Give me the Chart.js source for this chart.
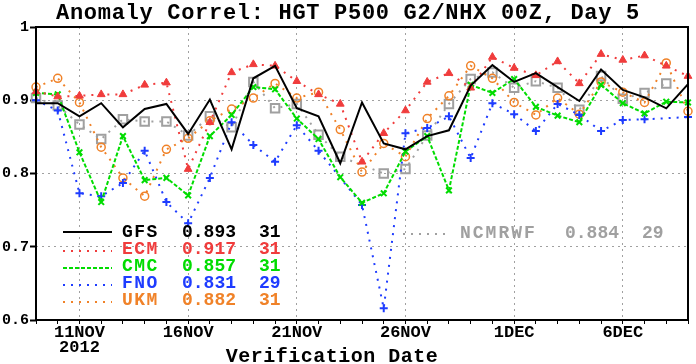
<!DOCTYPE html>
<html>
<head>
<meta charset="utf-8">
<script src="https://cdn.jsdelivr.net/npm/chart.js@4.4.1/dist/chart.umd.min.js"></script>
<style>
  html, body { margin: 0; padding: 0; background: #fff; }
  #chart { display: block; }
</style>
</head>
<body>
<canvas id="chart" width="696" height="364"></canvas>
<script>
// verification days, 9 Nov .. 9 Dec 2012
const dates = ['9NOV','10NOV','11NOV','12NOV','13NOV','14NOV','15NOV','16NOV','17NOV','18NOV',
  '19NOV','20NOV','21NOV','22NOV','23NOV','24NOV','25NOV','26NOV','27NOV','28NOV',
  '29NOV','30NOV','1DEC','2DEC','3DEC','4DEC','5DEC','6DEC','7DEC','8DEC','9DEC'];
const tickDates = ['11NOV','16NOV','21NOV','26NOV','1DEC','6DEC'];
const yearLabel = '2012';
const yTicks = [0.6, 0.7, 0.8, 0.9, 1];

const gfs = [0.896,0.896,0.878,0.896,0.863,0.888,0.895,0.854,0.901,0.833,
  0.930,0.947,0.889,0.878,0.814,0.897,0.841,0.833,0.851,0.859,
  0.920,0.948,0.925,0.937,0.918,0.899,0.942,0.914,0.904,0.889,0.922];
const ecm = [0.912,0.905,0.906,0.908,0.908,0.921,0.924,0.806,0.870,0.938,
  0.949,0.947,0.926,0.908,0.895,0.816,0.855,0.886,0.925,0.937,
  0.917,0.959,0.944,0.934,0.953,0.923,0.963,0.955,0.961,0.947,0.933];
const cmc = [0.910,0.908,0.829,0.761,0.851,0.791,0.794,0.770,0.851,0.880,
  0.918,0.915,0.875,0.847,0.795,0.760,0.773,0.830,0.851,0.777,
  0.921,0.910,0.929,0.891,0.879,0.870,0.921,0.896,0.882,0.898,0.897];
const fno = [0.900,0.886,0.773,0.769,0.787,0.831,0.761,0.732,0.794,0.870,
  0.839,0.816,0.866,0.831,null,0.757,0.616,0.855,0.862,0.878,
  0.821,0.896,0.881,0.858,0.895,0.880,0.858,0.873,0.874,null,0.877];
const ukm = [0.918,0.930,0.897,0.836,0.794,0.769,0.833,0.848,0.872,0.888,
  0.903,0.923,0.903,0.911,0.860,0.802,0.841,0.823,0.875,0.906,
  0.947,0.930,0.897,0.880,0.903,0.881,0.925,0.911,0.897,0.951,0.885];
const ncmrwf = [0.903,0.893,0.867,0.847,0.874,0.871,0.871,0.852,0.878,0.863,
  0.925,0.889,0.895,0.853,0.823,null,0.800,0.806,0.852,0.895,
  0.929,0.938,0.917,0.926,0.917,0.887,0.933,0.902,0.910,0.923,null];

const models = ['GFS','ECM','CMC','FNO','UKM'];
const means = ['0.893','0.917','0.857','0.831','0.882'];
const counts = ['31','31','31','29','31'];
const extraModel = 'NCMRWF', extraMean = '0.884', extraCount = '29';

const colors = ['#000000','#f03c3c','#00dc00','#1e3cff','#f08228','#a0a0a0'];
const FONT = "'Liberation Mono', 'DejaVu Sans Mono', monospace";

function dotted(ctx, x1, x2, y, color, dash) {
  ctx.save();
  ctx.strokeStyle = color;
  ctx.lineWidth = 2;
  ctx.setLineDash(dash);
  ctx.beginPath();
  ctx.moveTo(x1, y);
  ctx.lineTo(x2, y);
  ctx.stroke();
  ctx.restore();
}

const decorations = {
  id: 'decorations',
  afterDraw(chart) {
    const ctx = chart.ctx;
    const a = chart.chartArea;
    ctx.save();
    // frame
    ctx.strokeStyle = '#000';
    ctx.lineWidth = 2;
    ctx.strokeRect(a.left, a.top, a.right - a.left, a.bottom - a.top);

    // title
    ctx.fillStyle = '#000';
    ctx.font = 'bold 22px ' + FONT;
    ctx.textAlign = 'center';
    ctx.textBaseline = 'alphabetic';
    ctx.letterSpacing = '0.7px';
    ctx.fillText('Anomaly Correl: HGT P500 G2/NHX 00Z, Day 5', 348, 19);

    // x axis title
    ctx.letterSpacing = '0.5px';
    ctx.font = 'bold 20px ' + FONT;
    ctx.fillText('Verification Date', 332, 362);

    // legend
    ctx.textAlign = 'left';
    ctx.textBaseline = 'middle';
    const dashes = [[], [2, 6], [4, 2], [2, 6], [2, 6]];
    models.forEach((m, i) => {
      const y = 232 + i * 17;
      if (i === 0) dotted(ctx, 63, 112, y, colors[0], []);
      else dotted(ctx, 63, 112, y + 2, colors[i], dashes[i]);
      ctx.fillStyle = colors[i];
      ctx.font = 'bold 18px ' + FONT;
      ctx.letterSpacing = '1.5px';
      ctx.fillText(m, 122, y);
      ctx.letterSpacing = '0px';
      ctx.fillText(means[i], 182, y);
      ctx.fillText(counts[i], 259, y);
    });
    dotted(ctx, 403, 450, 234, colors[5], [2, 6]);
    ctx.fillStyle = colors[5];
    ctx.font = 'bold 18px ' + FONT;
    ctx.letterSpacing = '2px';
    ctx.fillText(extraModel, 460, 233);
    ctx.letterSpacing = '0px';
    ctx.fillText(extraMean, 565, 233);
    ctx.fillText(extraCount, 642, 233);
    ctx.restore();
  }
};

function series(label, data, color, extra) {
  return Object.assign({
    label: label,
    data: data,
    borderColor: color,
    backgroundColor: color,
    pointBorderColor: color,
    borderWidth: 2,
    tension: 0,
    spanGaps: true,
    pointRadius: 4,
    pointBorderWidth: 2
  }, extra);
}

new Chart(document.getElementById('chart').getContext('2d'), {
  type: 'line',
  data: {
    labels: dates,
    datasets: [
      series('GFS', gfs, colors[0], { pointRadius: 0, order: 0 }),
      series('ECM', ecm, colors[1], { borderDash: [2, 6], pointStyle: 'triangle', pointRadius: 4.5, pointBorderWidth: 1, order: 1 }),
      series('CMC', cmc, colors[2], { borderDash: [4, 2], pointStyle: 'crossRot', order: 2 }),
      series('FNO', fno, colors[3], { borderDash: [2, 6], pointStyle: 'cross', order: 3 }),
      series('UKM', ukm, colors[4], { borderDash: [2, 6], pointStyle: 'circle', pointBackgroundColor: 'rgba(0,0,0,0)', pointRadius: 4, pointBorderWidth: 1.5, order: 4 }),
      series('NCMRWF', ncmrwf, colors[5], { borderDash: [2, 6], pointStyle: 'rect', pointBackgroundColor: 'rgba(0,0,0,0)', pointRadius: 6, order: 5 })
    ]
  },
  options: {
    responsive: false,
    animation: false,
    layout: { padding: { top: 27, right: 3, left: 0, bottom: 0 } },
    plugins: { legend: { display: false }, tooltip: { enabled: false }, title: { display: false } },
    scales: {
      x: {
        type: 'category',
        offset: false,
        afterFit: s => { s.height = 44; },
        border: { display: false, dash: [2, 4] },
        grid: {
          color: c => tickDates.includes(dates[c.index]) ? '#a0a0a0' : 'rgba(0,0,0,0)',
          lineWidth: 1,
          tickColor: '#000',
          tickLength: 4,
          tickWidth: 1
        },
        ticks: {
          autoSkip: false,
          maxRotation: 0,
          padding: 1,
          color: '#000',
          font: { family: FONT, size: 17, weight: 'bold', lineHeight: 0.9 },
          callback: (v, i) => {
            const d = dates[i];
            if (!tickDates.includes(d)) return '';
            return i === dates.indexOf(tickDates[0]) ? [d, yearLabel] : d;
          }
        }
      },
      y: {
        min: 0.6,
        max: 1,
        afterFit: s => { s.width = 36; },
        afterBuildTicks: s => { s.ticks = yTicks.map(v => ({ value: v })); },
        border: { display: false, dash: [2, 4] },
        grid: {
          color: c => (c.tick && (c.tick.value === 0.6 || c.tick.value === 1)) ? 'rgba(0,0,0,0)' : '#a0a0a0',
          tickColor: '#000',
          tickLength: 6,
          tickWidth: 2
        },
        ticks: {
          padding: 1,
          color: '#000',
          font: { family: FONT, size: 15, weight: 'bold' },
          callback: v => v === 1 ? '1' : v.toFixed(1)
        }
      }
    }
  },
  plugins: [decorations]
});
</script>
</body>
</html>
